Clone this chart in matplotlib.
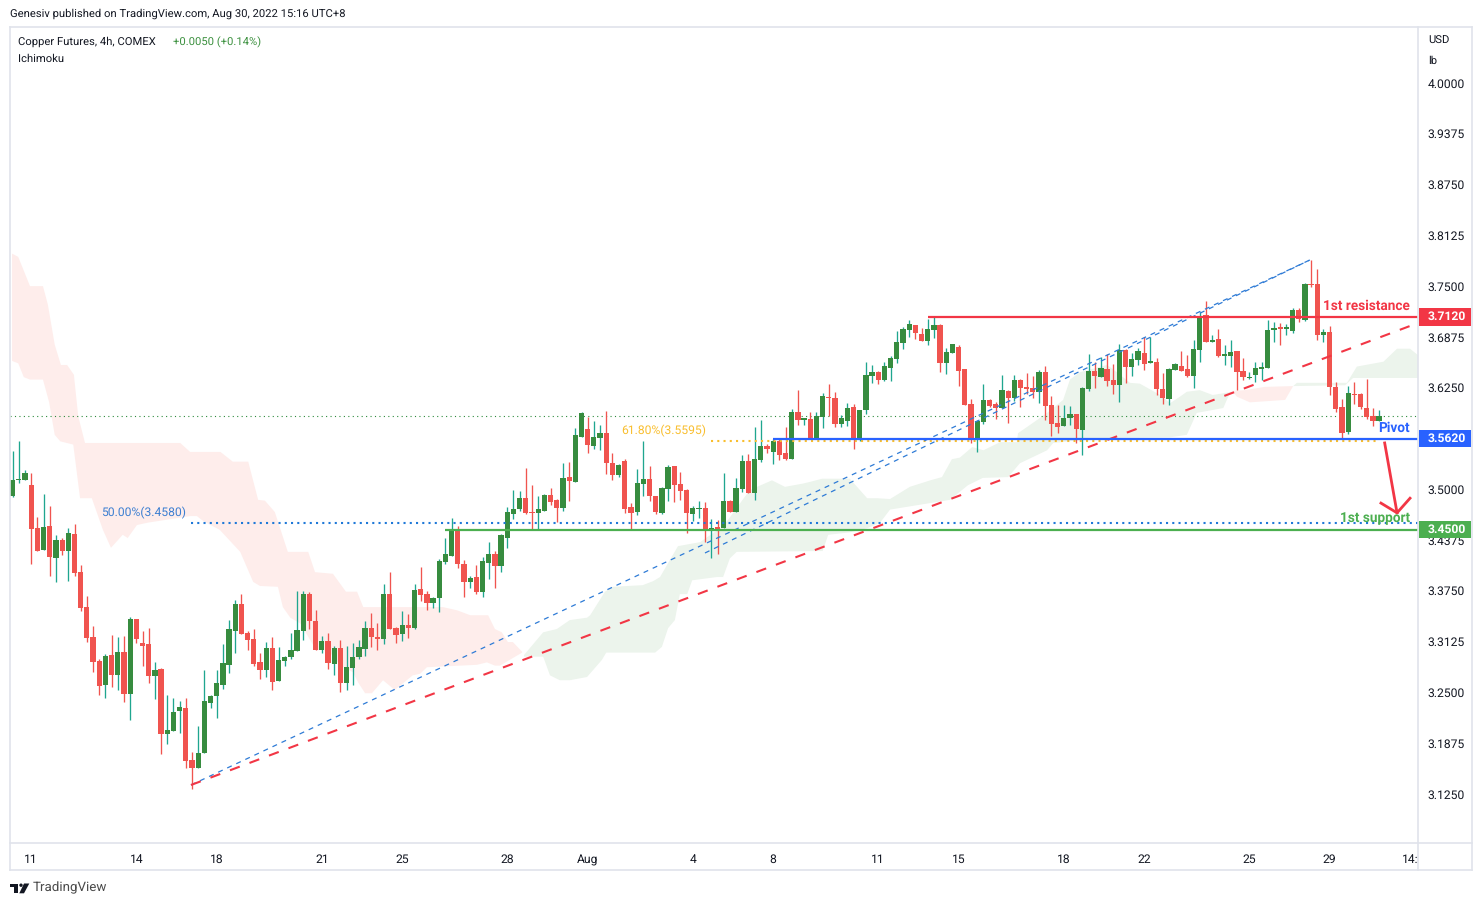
import matplotlib
matplotlib.use("Agg")
import matplotlib.pyplot as plt
from matplotlib.lines import Line2D
from matplotlib.patches import Circle, Polygon, Rectangle
from matplotlib.transforms import blended_transform_factory

plt.rcParams["font.family"] = ["Roboto", "Liberation Sans", "DejaVu Sans"]
plt.rcParams["text.hinting"] = "no_hinting"

W, H = 1484, 906

opens = [
    3.492, 3.511, 3.511, 3.505, 3.452, 3.425, 3.455, 3.416, 3.438, 3.424,
    3.445, 3.398, 3.355, 3.318, 3.289, 3.259, 3.296, 3.272, 3.300, 3.248,
    3.340, 3.311, 3.310, 3.270, 3.279, 3.199, 3.203, 3.227, 3.231, 3.167,
    3.157, 3.176, 3.237, 3.246, 3.259, 3.284, 3.326, 3.359, 3.323, 3.316,
    3.288, 3.278, 3.305, 3.264, 3.289, 3.294, 3.301, 3.325, 3.371, 3.338,
    3.302, 3.313, 3.285, 3.305, 3.262, 3.280, 3.293, 3.304, 3.329, 3.318,
    3.316, 3.371, 3.329, 3.322, 3.333, 3.329, 3.377, 3.371, 3.360, 3.366,
    3.411, 3.418, 3.451, 3.408, 3.386, 3.392, 3.373, 3.409, 3.420, 3.406,
    3.440, 3.470, 3.476, 3.489, 3.472, 3.471, 3.473, 3.493, 3.487, 3.477,
    3.515, 3.509, 3.564, 3.574, 3.553, 3.563, 3.569, 3.532, 3.518, 3.535,
    3.478, 3.472, 3.507, 3.513, 3.492, 3.471, 3.500, 3.529, 3.507, 3.499,
    3.470, 3.476, 3.477, 3.451, 3.454, 3.452, 3.486, 3.472, 3.500, 3.535,
    3.495, 3.536, 3.553, 3.546, 3.559, 3.545, 3.537, 3.595, 3.585, 3.586,
    3.562, 3.589, 3.614, 3.612, 3.580, 3.584, 3.601, 3.562, 3.597, 3.640,
    3.644, 3.635, 3.649, 3.660, 3.680, 3.696, 3.702, 3.691, 3.683, 3.696,
    3.702, 3.656, 3.668, 3.675, 3.648, 3.605, 3.562, 3.583, 3.610, 3.605,
    3.600, 3.621, 3.612, 3.635, 3.626, 3.625, 3.620, 3.644, 3.604, 3.582,
    3.578, 3.588, 3.593, 3.573, 3.624, 3.646, 3.638, 3.648, 3.635, 3.628,
    3.672, 3.651, 3.659, 3.668, 3.656, 3.657, 3.623, 3.611, 3.647, 3.652,
    3.648, 3.640, 3.671, 3.715, 3.681, 3.685, 3.664, 3.664, 3.670, 3.646,
    3.637, 3.641, 3.648, 3.649, 3.696, 3.700, 3.697, 3.695, 3.721, 3.708,
    3.753, 3.753, 3.690, 3.694, 3.626, 3.601, 3.571, 3.617, 3.617, 3.600, 3.590, 3.584,
]
highs = [
    3.547, 3.560, 3.524, 3.520, 3.466, 3.494, 3.480, 3.444, 3.440, 3.452,
    3.457, 3.407, 3.369, 3.332, 3.291, 3.297, 3.321, 3.318, 3.320, 3.343,
    3.340, 3.326, 3.329, 3.288, 3.280, 3.247, 3.243, 3.240, 3.243, 3.177,
    3.209, 3.278, 3.247, 3.277, 3.310, 3.339, 3.364, 3.371, 3.326, 3.328,
    3.299, 3.312, 3.318, 3.306, 3.295, 3.323, 3.375, 3.375, 3.373, 3.352,
    3.320, 3.323, 3.307, 3.315, 3.307, 3.311, 3.315, 3.338, 3.348, 3.336,
    3.384, 3.398, 3.331, 3.350, 3.347, 3.384, 3.404, 3.375, 3.368, 3.414,
    3.440, 3.465, 3.455, 3.413, 3.393, 3.407, 3.417, 3.435, 3.424, 3.445,
    3.478, 3.499, 3.498, 3.526, 3.505, 3.492, 3.494, 3.502, 3.488, 3.532,
    3.534, 3.575, 3.595, 3.589, 3.584, 3.579, 3.596, 3.545, 3.531, 3.537,
    3.483, 3.525, 3.559, 3.529, 3.492, 3.503, 3.530, 3.529, 3.521, 3.500,
    3.480, 3.486, 3.484, 3.463, 3.462, 3.520, 3.487, 3.514, 3.542, 3.543,
    3.577, 3.585, 3.556, 3.562, 3.562, 3.577, 3.599, 3.622, 3.588, 3.595,
    3.595, 3.618, 3.630, 3.620, 3.591, 3.606, 3.605, 3.598, 3.657, 3.653,
    3.646, 3.657, 3.664, 3.695, 3.700, 3.708, 3.702, 3.699, 3.710, 3.713,
    3.703, 3.674, 3.679, 3.678, 3.648, 3.611, 3.585, 3.630, 3.611, 3.608,
    3.641, 3.622, 3.641, 3.636, 3.643, 3.640, 3.647, 3.652, 3.615, 3.604,
    3.604, 3.603, 3.593, 3.626, 3.667, 3.657, 3.663, 3.667, 3.654, 3.679,
    3.673, 3.668, 3.674, 3.687, 3.687, 3.662, 3.643, 3.649, 3.655, 3.670,
    3.665, 3.684, 3.718, 3.732, 3.690, 3.697, 3.678, 3.684, 3.670, 3.662,
    3.644, 3.657, 3.657, 3.708, 3.706, 3.705, 3.703, 3.723, 3.723, 3.754,
    3.782, 3.771, 3.697, 3.701, 3.632, 3.611, 3.627, 3.632, 3.619, 3.636, 3.600, 3.598,
]
lows = [
    3.490, 3.508, 3.511, 3.408, 3.424, 3.425, 3.393, 3.386, 3.419, 3.387,
    3.393, 3.350, 3.312, 3.275, 3.247, 3.243, 3.257, 3.253, 3.238, 3.216,
    3.311, 3.283, 3.262, 3.242, 3.174, 3.186, 3.203, 3.200, 3.157, 3.131,
    3.157, 3.176, 3.231, 3.218, 3.254, 3.274, 3.299, 3.322, 3.302, 3.283,
    3.266, 3.269, 3.253, 3.264, 3.282, 3.291, 3.301, 3.315, 3.328, 3.302,
    3.299, 3.279, 3.272, 3.251, 3.253, 3.259, 3.291, 3.295, 3.306, 3.302,
    3.309, 3.328, 3.311, 3.313, 3.317, 3.328, 3.363, 3.352, 3.354, 3.349,
    3.408, 3.418, 3.403, 3.368, 3.379, 3.371, 3.368, 3.390, 3.379, 3.398,
    3.428, 3.464, 3.473, 3.470, 3.451, 3.451, 3.473, 3.481, 3.460, 3.473,
    3.486, 3.509, 3.564, 3.545, 3.550, 3.548, 3.519, 3.511, 3.515, 3.471,
    3.450, 3.468, 3.492, 3.486, 3.470, 3.470, 3.486, 3.484, 3.487, 3.446,
    3.461, 3.465, 3.435, 3.416, 3.420, 3.452, 3.472, 3.472, 3.497, 3.495,
    3.487, 3.534, 3.545, 3.531, 3.536, 3.536, 3.537, 3.579, 3.579, 3.562,
    3.562, 3.575, 3.590, 3.577, 3.577, 3.578, 3.550, 3.559, 3.593, 3.631,
    3.630, 3.633, 3.633, 3.656, 3.673, 3.688, 3.685, 3.683, 3.678, 3.686,
    3.644, 3.642, 3.668, 3.627, 3.604, 3.557, 3.546, 3.580, 3.601, 3.587,
    3.600, 3.582, 3.609, 3.601, 3.617, 3.612, 3.606, 3.585, 3.566, 3.569,
    3.578, 3.579, 3.557, 3.542, 3.621, 3.625, 3.638, 3.627, 3.617, 3.608,
    3.631, 3.640, 3.653, 3.647, 3.656, 3.616, 3.605, 3.604, 3.647, 3.646,
    3.638, 3.625, 3.657, 3.681, 3.681, 3.663, 3.653, 3.651, 3.622, 3.635,
    3.636, 3.632, 3.635, 3.649, 3.681, 3.678, 3.690, 3.692, 3.706, 3.707,
    3.749, 3.684, 3.681, 3.616, 3.595, 3.562, 3.568, 3.605, 3.599, 3.587, 3.578, 3.584,
]
closes = [
    3.512, 3.513, 3.520, 3.451, 3.424, 3.454, 3.417, 3.438, 3.424, 3.446,
    3.397, 3.354, 3.317, 3.288, 3.258, 3.295, 3.272, 3.300, 3.248, 3.340,
    3.316, 3.307, 3.270, 3.278, 3.199, 3.204, 3.226, 3.232, 3.166, 3.157,
    3.176, 3.240, 3.246, 3.262, 3.286, 3.328, 3.359, 3.322, 3.315, 3.285,
    3.277, 3.305, 3.263, 3.290, 3.294, 3.302, 3.327, 3.371, 3.338, 3.302,
    3.313, 3.286, 3.305, 3.262, 3.281, 3.293, 3.306, 3.329, 3.318, 3.316,
    3.371, 3.328, 3.321, 3.333, 3.329, 3.376, 3.370, 3.360, 3.366, 3.412,
    3.420, 3.451, 3.408, 3.386, 3.391, 3.373, 3.412, 3.420, 3.406, 3.444,
    3.472, 3.476, 3.489, 3.471, 3.471, 3.476, 3.493, 3.484, 3.477, 3.514,
    3.510, 3.567, 3.594, 3.555, 3.564, 3.569, 3.532, 3.518, 3.530, 3.476,
    3.471, 3.508, 3.513, 3.492, 3.472, 3.502, 3.527, 3.505, 3.498, 3.471,
    3.477, 3.477, 3.451, 3.452, 3.451, 3.486, 3.472, 3.502, 3.535, 3.495,
    3.537, 3.553, 3.550, 3.559, 3.542, 3.537, 3.595, 3.585, 3.588, 3.562,
    3.590, 3.615, 3.612, 3.580, 3.588, 3.600, 3.562, 3.598, 3.641, 3.644,
    3.635, 3.652, 3.662, 3.681, 3.697, 3.703, 3.692, 3.683, 3.697, 3.702,
    3.656, 3.669, 3.679, 3.646, 3.604, 3.562, 3.584, 3.610, 3.603, 3.600,
    3.622, 3.612, 3.635, 3.625, 3.624, 3.620, 3.644, 3.603, 3.580, 3.577,
    3.588, 3.593, 3.574, 3.625, 3.646, 3.640, 3.649, 3.633, 3.628, 3.672,
    3.651, 3.660, 3.670, 3.654, 3.658, 3.624, 3.612, 3.648, 3.654, 3.646,
    3.640, 3.673, 3.713, 3.681, 3.684, 3.664, 3.667, 3.669, 3.644, 3.638,
    3.638, 3.649, 3.651, 3.696, 3.699, 3.697, 3.700, 3.721, 3.710, 3.753,
    3.751, 3.690, 3.694, 3.626, 3.599, 3.569, 3.619, 3.616, 3.601, 3.589, 3.584, 3.590,
]

# ichimoku cloud outlines, x is the bar number
red_top_x = [-0.1, 0.9, 2.8, 4.9, 5.7, 6.8, 7.8, 8.8, 9.9, 10.6, 11.7, 27.1, 28.7, 33.6, 35.6, 38.1, 39.7, 40.8,
             42.4, 44.5, 47.8, 48.9, 51.8, 53.9, 55.7, 56.7, 69.6, 71.9, 74.0, 76.9, 78.0, 79.1, 80.1, 80.9, 82.4]
red_top_y = [3.790, 3.786, 3.750, 3.750, 3.727, 3.678, 3.653, 3.653, 3.641, 3.590, 3.557, 3.557, 3.546, 3.546,
             3.534, 3.534, 3.487, 3.486, 3.472, 3.423, 3.423, 3.398, 3.396, 3.374, 3.374, 3.355, 3.355, 3.351,
             3.345, 3.345, 3.328, 3.324, 3.312, 3.312, 3.300]
red_bot_x = [-0.1, 0.9, 1.8, 2.8, 4.9, 5.9, 6.8, 7.7, 9.8, 10.9, 12.8, 14.6, 15.9, 17.8, 18.6, 20.1, 21.9, 28.7,
             29.8, 30.8, 33.5, 36.8, 38.9, 40.0, 42.9, 43.7, 44.9, 46.5, 49.1, 51.0, 52.9, 55.0, 55.9, 57.0,
             58.1, 59.9, 61.8, 64.7, 65.9, 67.0, 75.1, 76.7, 78.0, 78.8, 82.4]
red_bot_y = [3.658, 3.655, 3.638, 3.635, 3.635, 3.607, 3.567, 3.559, 3.555, 3.489, 3.489, 3.450, 3.428, 3.444,
             3.440, 3.456, 3.459, 3.467, 3.467, 3.461, 3.450, 3.423, 3.386, 3.381, 3.380, 3.355, 3.342, 3.335,
             3.302, 3.302, 3.284, 3.275, 3.262, 3.249, 3.249, 3.265, 3.253, 3.271, 3.273, 3.281, 3.284, 3.287,
             3.283, 3.283, 3.299]
green_top_x = [82.7, 85.8, 88.0, 90.1, 92.9, 93.4, 95.8, 97.1, 101.9, 103.6, 104.7, 106.3, 107.6, 111.2, 112.3,
               114.9, 119.2, 122.8, 124.9, 127.8, 128.9, 130.9, 135.4, 138.2, 139.8, 141.9, 145.1, 148.4, 150.3,
               151.9, 153.2, 155.2, 157.0, 159.7, 162.4, 162.6, 164.5, 167.3, 169.9, 171.0, 172.6, 177.0, 178.6,
               180.7, 182.3, 185.6, 187.2, 188.8, 189.9, 192.0, 194.1, 197.2]
green_top_y = [3.296, 3.324, 3.328, 3.339, 3.342, 3.345, 3.374, 3.380, 3.382, 3.387, 3.392, 3.413, 3.430, 3.435,
               3.441, 3.454, 3.499, 3.511, 3.503, 3.507, 3.509, 3.513, 3.513, 3.489, 3.489, 3.488, 3.503, 3.511,
               3.515, 3.537, 3.539, 3.552, 3.548, 3.558, 3.558, 3.569, 3.579, 3.594, 3.610, 3.635, 3.644, 3.653,
               3.644, 3.631, 3.630, 3.616, 3.606, 3.614, 3.620, 3.622, 3.616, 3.620]
green_bot_x = [82.7, 85.8, 86.9, 88.5, 90.1, 92.9, 95.3, 96.0, 103.9, 105.0, 106.0, 107.1, 107.9, 109.1, 109.9,
               113.9, 114.9, 116.0, 117.1, 131.0, 131.9, 135.4, 138.2, 140.3, 141.9, 151.6, 154.5, 156.9, 161.0,
               162.9, 167.3, 168.3, 175.9, 187.2, 189.9, 191.5, 195.8, 196.6, 197.2]
green_bot_y = [3.294, 3.294, 3.271, 3.265, 3.265, 3.269, 3.290, 3.299, 3.299, 3.306, 3.329, 3.339, 3.371, 3.371,
               3.388, 3.392, 3.392, 3.415, 3.423, 3.424, 3.444, 3.447, 3.452, 3.459, 3.475, 3.487, 3.505, 3.514,
               3.515, 3.532, 3.548, 3.557, 3.563, 3.564, 3.567, 3.594, 3.600, 3.614, 3.620]
red2_top_x = [197.2, 199.3, 202.5, 207.1]
red2_top_y = [3.621, 3.622, 3.626, 3.627]
red2_bot_x = [197.2, 198.0, 200.1, 205.8, 207.1]
red2_bot_y = [3.621, 3.614, 3.607, 3.610, 3.627]
green2_top_x = [207.1, 207.7, 215.8, 217.4, 221.7, 223.9, 226.0, 227.3]
green2_top_y = [3.627, 3.631, 3.631, 3.651, 3.657, 3.673, 3.673, 3.665]
green2_bot_x = [207.1, 215.5, 216.8, 227.3]
green2_bot_y = [3.627, 3.628, 3.637, 3.637]

# trend lines: (bar, price)
channel_x = [28.84, 209.8]
channel_y = [3.1361, 3.7822]
channel2_x = [111.97, 209.8]
channel2_y = [3.4216, 3.7822]
red_trend_x = [28.84, 227.3]
red_trend_y = [3.1361, 3.7047]
arrow_x = [221.9, 223.9]
arrow_y = [3.557, 3.471]
arrow_head_x = [221.3, 223.9, 226.0]
arrow_head_y = [3.483, 3.471, 3.489]

last_close = 3.590
resistance = 3.7120
pivot = 3.5620
support = 3.4500
fib_50 = 3.4580
fib_618 = 3.5595

price_ticks = [4.0, 3.9375, 3.875, 3.8125, 3.75, 3.6875, 3.625, 3.5625, 3.5, 3.4375, 3.375, 3.3125, 3.25, 3.1875, 3.125]
date_ticks = [3, 20, 33, 50, 63, 80, 93, 110, 123, 140, 153, 170, 183, 200, 213, 226]
date_labels = ["11", "14", "18", "21", "25", "28", "Aug", "4", "8", "11", "15", "18", "22", "25", "29", "14:"]

RED = "#F23645"
BLUE = "#2962FF"
GREEN = "#4CAF50"
BORDER = "#E0E3EB"
TXT = "#131722"
FS = 8.7
HEAD_FS = 8.1


def fx(px):
    return px / W


def fy(py):
    return 1 - py / H


fig = plt.figure(figsize=(W / 100, H / 100), dpi=100, facecolor="white")
ax = fig.add_axes([fx(10), fy(843), fx(1408), 816 / H])
ax.set_xlim(-0.432, 227.29)
ax.set_ylim(3.0647, 4.0689)

# clouds
ax.fill(red_top_x + red_bot_x[::-1], red_top_y + red_bot_y[::-1], color="#FEEDEB", lw=0, zorder=1)
ax.fill(green_top_x + green_bot_x[::-1], green_top_y + green_bot_y[::-1], color="#ECF4EC", lw=0, zorder=1)
ax.fill(red2_top_x + red2_bot_x[::-1], red2_top_y + red2_bot_y[::-1], color="#FEEDEB", lw=0, zorder=1)
ax.fill(green2_top_x + green2_bot_x[::-1], green2_top_y + green2_bot_y[::-1], color="#ECF4EC", lw=0, zorder=1)

# last price line
ax.axhline(last_close, color="#2E8B3D", lw=0.8, ls=(0, (1, 3)), zorder=2)

# candles
for i in range(len(opens)):
    up = closes[i] >= opens[i]
    ax.vlines(i, lows[i], highs[i], color="#1FA68F" if up else "#F0544F", lw=0.95, zorder=3)
    bottom = min(opens[i], closes[i])
    height = max(abs(closes[i] - opens[i]), 0.0014)
    ax.bar(i, height, bottom=bottom, width=0.85, color="#378C3F" if up else "#F0544F", lw=0, zorder=4)

# fib levels
ax.plot([28.84, 227.29], [fib_50, fib_50], color="#1E78D8", lw=1.5, ls=(0, (1, 2)), zorder=5)
ax.plot([113, 221], [fib_618, fib_618], color="#F9BE2E", lw=1.5, ls=(0, (1, 2)), zorder=5)
ax.text(14.3, fib_50 + 0.0125, "50.00%(3.4580)", color="#3D7FD1", fontsize=FS, ha="left", va="center", zorder=8)
ax.text(98.4, fib_618 + 0.0125, "61.80%(3.5595)", color="#F9BE2E", fontsize=FS, ha="left", va="center", zorder=8)

# channel
ax.plot(channel_x, channel_y, color="#2E7BD6", lw=0.9, ls=(0, (4, 4)), zorder=5)
ax.plot(channel2_x, channel2_y, color="#2E7BD6", lw=0.9, ls=(0, (4, 4)), zorder=5)
ax.plot(red_trend_x, red_trend_y, color=RED, lw=1.5, ls=(0, (5, 5)), zorder=6)

# levels
ax.plot([148.0, 227.29], [resistance, resistance], color=RED, lw=1.6, zorder=6, solid_capstyle="butt")
ax.plot([123.0, 227.29], [pivot, pivot], color=BLUE, lw=1.6, zorder=6, solid_capstyle="butt")
ax.plot([69.9, 227.29], [support, support], color=GREEN, lw=1.6, zorder=6, solid_capstyle="butt")

ax.text(226.0, 3.7257, "1st resistance", color=RED, fontsize=9.8, fontweight="bold", ha="right", va="center", zorder=8)
ax.text(226.0, 3.5755, "Pivot", color=BLUE, fontsize=9.8, fontweight="bold", ha="right", va="center", zorder=8)
ax.text(226.0, 3.4637, "1st support", color=GREEN, fontsize=9.8, fontweight="bold", ha="right", va="center", zorder=8)

# arrow
ax.plot(arrow_x, arrow_y, color=RED, lw=2, zorder=7)
ax.plot(arrow_head_x, arrow_head_y, color=RED, lw=2, zorder=7)

# axes
ax.yaxis.tick_right()
ax.set_yticks(price_ticks)
ax.set_yticklabels([f"{p:.4f}" for p in price_ticks])
ax.set_xticks(date_ticks)
ax.set_xticklabels(date_labels)
ax.tick_params(axis="y", length=0, pad=7, labelsize=FS, labelcolor=TXT)
ax.tick_params(axis="x", length=0, pad=8, labelsize=FS, labelcolor=TXT)
for s in ax.spines.values():
    s.set_visible(False)

# price tags on the scale
trans = blended_transform_factory(ax.transAxes, ax.transData)
for price, col in [(resistance, RED), (pivot, BLUE), (support, GREEN)]:
    ax.add_patch(Rectangle((1.0005, price - 0.0105), 52 / 1408, 0.021, transform=trans, facecolor=col,
                           edgecolor="none", clip_on=False, zorder=9))
    ax.text(1 + 10 / 1408, price, f"{price:.4f}", transform=trans, color="white", fontsize=FS, fontweight="bold",
            ha="left", va="center", clip_on=False, zorder=10)

# chart frame
for x0, y0, x1, y1 in [(10, 27, 1472, 27), (10, 27, 10, 870), (10, 870, 1472, 870), (1472, 27, 1472, 870),
                       (10, 843, 1472, 843), (1418, 27, 1418, 870)]:
    fig.add_artist(Line2D([fx(x0), fx(x1)], [fy(y0), fy(y1)], color=BORDER, lw=1.2))

# header and footer text
fig.text(fx(10), fy(14), "Genesiv published on TradingView.com, Aug 30, 2022 15:16 UTC+8", color=TXT, fontsize=HEAD_FS, va="center")
fig.text(fx(18), fy(42), "Copper Futures, 4h, COMEX", color=TXT, fontsize=HEAD_FS, va="center")
fig.text(fx(173), fy(42), "+0.0050 (+0.14%)", color="#3D9140", fontsize=HEAD_FS, va="center")
fig.text(fx(18), fy(59), "Ichimoku", color=TXT, fontsize=HEAD_FS, va="center")
fig.text(fx(1428), fy(41), "USD", color=TXT, fontsize=HEAD_FS, va="center")
fig.text(fx(1428), fy(61), "lb", color=TXT, fontsize=HEAD_FS, va="center")
fig.text(fx(33), fy(888), "TradingView", color="#4A4A4A", fontsize=9.6, va="center")

# logo
logo = [
    [(10, 883.5), (18.3, 883.5), (18.3, 893.3), (13.5, 893.3), (13.5, 886.8), (10, 886.8)],
    [(24, 883.5), (29.3, 883.5), (24, 893.3), (19.3, 893.3)],
]
for pts in logo:
    fig.add_artist(Polygon([(fx(a), fy(b)) for a, b in pts], closed=True, facecolor=TXT, edgecolor="none",
                           transform=fig.transFigure))
fig.add_artist(Circle((21, H - 885.2), 1.7, facecolor=TXT, edgecolor="none", transform=None))

fig.savefig("out.png", dpi=100)
